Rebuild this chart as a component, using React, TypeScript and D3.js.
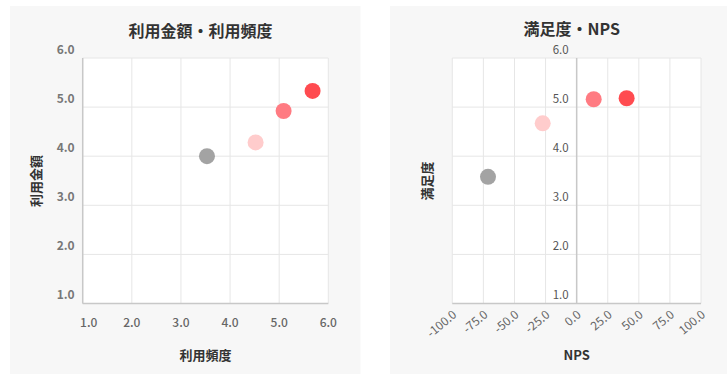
import React from "react";
import * as d3 from "d3";

// Segments: 0 = gray, 1 = light, 2 = mid, 3 = strong
const segmentColors = ["#a3a3a3", "#ffcccc", "#ff7b82", "#ff4b50"];

// 利用金額・利用頻度
const usageFrequency = [3.53, 4.52, 5.09, 5.68];
const usageAmount = [4.0, 4.28, 4.92, 5.33];

// 満足度・NPS
const npsValues = [-71.3, -27.3, 13.7, 40.2];
const satisfaction = [3.58, 4.67, 5.16, 5.18];

const scoreTicks = [1, 2, 3, 4, 5, 6];
const npsTicks = [-100, -75, -50, -25, 0, 25, 50, 75, 100];

const FONT = "'Noto Sans CJK JP', 'Noto Sans', sans-serif";

type PanelProps = {
  left: number;
  width: number;
  title: string;
  titleY: number;
  xTitle: string;
  yTitle: string;
  xs: number[];
  ys: number[];
  xDomain: [number, number];
  xTicks: number[];
  plotLeft: number;
  plotRight: number;
  yTitleX: number;
  rotateX: boolean;
  zeroAxis: boolean;
  yTickWeight: string;
  yTickColor: string;
  yTickSize: number;
  xTickWeight: string;
};

function Panel(p: PanelProps) {
  const top = 58;
  const bottom = 303.5;
  const x = d3.scaleLinear().domain(p.xDomain).range([p.plotLeft, p.plotRight]);
  const y = d3.scaleLinear().domain([1, 6]).range([bottom, top]);
  const yAxisX = p.zeroAxis ? x(0) : p.plotLeft;
  const cx = (p.plotLeft + p.plotRight) / 2;
  return (
    <g>
      <rect x={p.left} y={6} width={p.width} height={368} fill="#f7f7f7" />
      <rect x={p.plotLeft} y={top} width={p.plotRight - p.plotLeft} height={bottom - top} fill="#ffffff" />
      {p.xTicks.map((t) => (
        <line key={"gx" + t} x1={x(t)} x2={x(t)} y1={top} y2={bottom} stroke="#e6e6e6" strokeWidth={1} />
      ))}
      {scoreTicks.map((t) => (
        <line key={"gy" + t} x1={p.plotLeft} x2={p.plotRight} y1={y(t)} y2={y(t)} stroke="#e6e6e6" strokeWidth={1} />
      ))}
      <line x1={p.plotLeft} x2={p.plotRight} y1={bottom} y2={bottom} stroke="#c8c8c8" strokeWidth={1.5} />
      <line x1={yAxisX} x2={yAxisX} y1={top} y2={bottom} stroke="#c8c8c8" strokeWidth={1.5} />
      {scoreTicks.map((t) => (
        <text
          key={"ty" + t}
          x={yAxisX - 8}
          y={y(t) - 4.5}
          textAnchor="end"
          fontSize={p.yTickSize}
          fontWeight={p.yTickWeight}
          fill={p.yTickColor}
          fontFamily={FONT}
        >
          {t.toFixed(1)}
        </text>
      ))}
      {p.xTicks.map((t, i) =>
        p.rotateX ? (
          <text
            key={"tx" + t}
            transform={`translate(${x(t) + 3},${bottom + 10}) rotate(-40)`}
            textAnchor="end"
            dominantBaseline="middle"
            fontSize={12}
            fill="#666"
            fontFamily={FONT}
          >
            {t.toFixed(1)}
          </text>
        ) : (
          <text
            key={"tx" + t}
            x={x(t) + (i === 0 ? 6 : 0)}
            y={bottom + 23}
            textAnchor="middle"
            fontSize={12}
            fontWeight={p.xTickWeight}
            fill="#666"
            fontFamily={FONT}
          >
            {t.toFixed(1)}
          </text>
        )
      )}
      {p.xs.map((v, i) => (
        <circle key={"pt" + i} cx={x(v)} cy={y(p.ys[i])} r={8} fill={segmentColors[i]} />
      ))}
      <text x={cx - 5} y={p.titleY} textAnchor="middle" fontSize={16} fontWeight="bold" fill="#333" fontFamily={FONT}>
        {p.title}
      </text>
      <text x={cx} y={360} textAnchor="middle" fontSize={13} fontWeight="bold" fill="#333" fontFamily={FONT}>
        {p.xTitle}
      </text>
      <text
        transform={`translate(${p.yTitleX},181) rotate(-90)`}
        textAnchor="middle"
        dominantBaseline="middle"
        fontSize={13}
        fontWeight="bold"
        fill="#333"
        fontFamily={FONT}
      >
        {p.yTitle}
      </text>
    </g>
  );
}

export default function App() {
  return (
    <svg width={727} height={374} style={{ position: "absolute", left: 0, top: 0 }}>
      <rect width={727} height={374} fill="#ffffff" />
      <Panel
        left={10}
        width={350.5}
        title="利用金額・利用頻度"
        titleY={37}
        xTitle="利用頻度"
        yTitle="利用金額"
        xs={usageFrequency}
        ys={usageAmount}
        xDomain={[1, 6]}
        xTicks={scoreTicks}
        plotLeft={82.7}
        plotRight={328.3}
        yTitleX={37}
        rotateX={false}
        zeroAxis={false}
        yTickWeight="bold"
        yTickColor="#777"
        yTickSize={12}
        xTickWeight="500"
      />
      <Panel
        left={390}
        width={337}
        title="満足度・NPS"
        titleY={35}
        xTitle="NPS"
        yTitle="満足度"
        xs={npsValues}
        ys={satisfaction}
        xDomain={[-100, 100]}
        xTicks={npsTicks}
        plotLeft={452.3}
        plotRight={701}
        yTitleX={428}
        rotateX={true}
        zeroAxis={true}
        yTickWeight="normal"
        yTickColor="#555"
        yTickSize={11.5}
        xTickWeight="normal"
      />
    </svg>
  );
}
